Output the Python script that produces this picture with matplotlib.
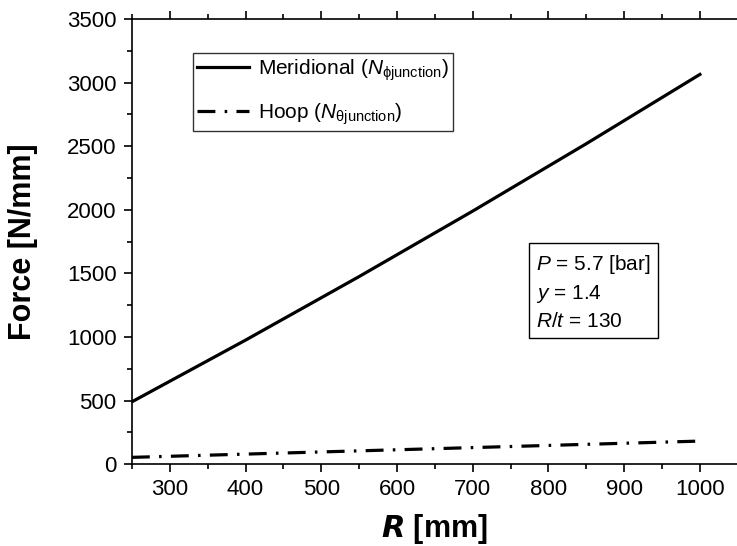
import numpy as np
import matplotlib
matplotlib.use('Agg')
import matplotlib.pyplot as plt
from matplotlib.ticker import MultipleLocator

plt.rcParams['font.family'] = 'Liberation Sans'
plt.rcParams['mathtext.fontset'] = 'custom'
plt.rcParams['mathtext.rm'] = 'Liberation Sans'
plt.rcParams['mathtext.it'] = 'Liberation Sans:italic'
plt.rcParams['mathtext.bf'] = 'Liberation Sans:bold'

# data
R = [250, 400, 550, 700, 850, 1000]
N_meridional = [490, 975, 1475, 1990, 2520, 3065]
R_hoop = [250, 1000]
N_hoop = [53, 181]

fig = plt.figure(figsize=(7.37, 5.46), dpi=100)
ax = fig.add_axes([0.179, 0.150, 0.821, 0.815])

ax.plot(R, N_meridional, color='black', lw=2.3, label=r'Meridional ($\mathit{N}_{\mathrm{\phi junction}}$)')
ax.plot(R_hoop, N_hoop, color='black', lw=2.3, dashes=(5.6, 2.9, 0.8, 2.9),
        label=r'Hoop ($\mathit{N}_{\mathrm{\theta junction}}$)')

ax.set_xlim(250, 1049)
ax.set_ylim(0, 3500)
ax.xaxis.set_minor_locator(MultipleLocator(50))
ax.yaxis.set_major_locator(MultipleLocator(500))
ax.yaxis.set_minor_locator(MultipleLocator(250))
ax.set_xticks(range(300, 1001, 100))
ax.tick_params(which='both', direction='out', top=True, right=False, labelsize=16, width=1.2)
ax.tick_params(which='major', length=6, pad=5)
ax.tick_params(which='minor', length=3.5)
ax.spines['right'].set_visible(False)
for s in ['left', 'bottom', 'top']:
    ax.spines[s].set_linewidth(1.2)

ax.set_xlabel(r'$\mathbfit{R}$ [mm]', fontsize=22, fontweight='bold', va='center')
ax.set_ylabel('Force [N/mm]', fontsize=22, fontweight='bold', va='center')
ax.xaxis.set_label_coords(0.5, -0.146)
ax.yaxis.set_label_coords(-0.180, 0.5)

leg = ax.legend(loc='upper left', bbox_to_anchor=(0.101, 0.924), borderaxespad=0, fontsize=15,
                frameon=True, fancybox=False, edgecolor='black', handlelength=2.5, borderpad=0.2,
                labelspacing=0.9, handletextpad=0.4)
leg.get_frame().set_linewidth(1.0)

ax.text(0.668, 0.475, '$P$ = 5.7 [bar]\n$y$ = 1.4\n$R$/$t$ = 130', transform=ax.transAxes,
        fontsize=15, va='top', ha='left', linespacing=1.45,
        bbox=dict(boxstyle='square,pad=0.35', facecolor='white', edgecolor='black', lw=1.0))

fig.savefig('out.png', dpi=100)
